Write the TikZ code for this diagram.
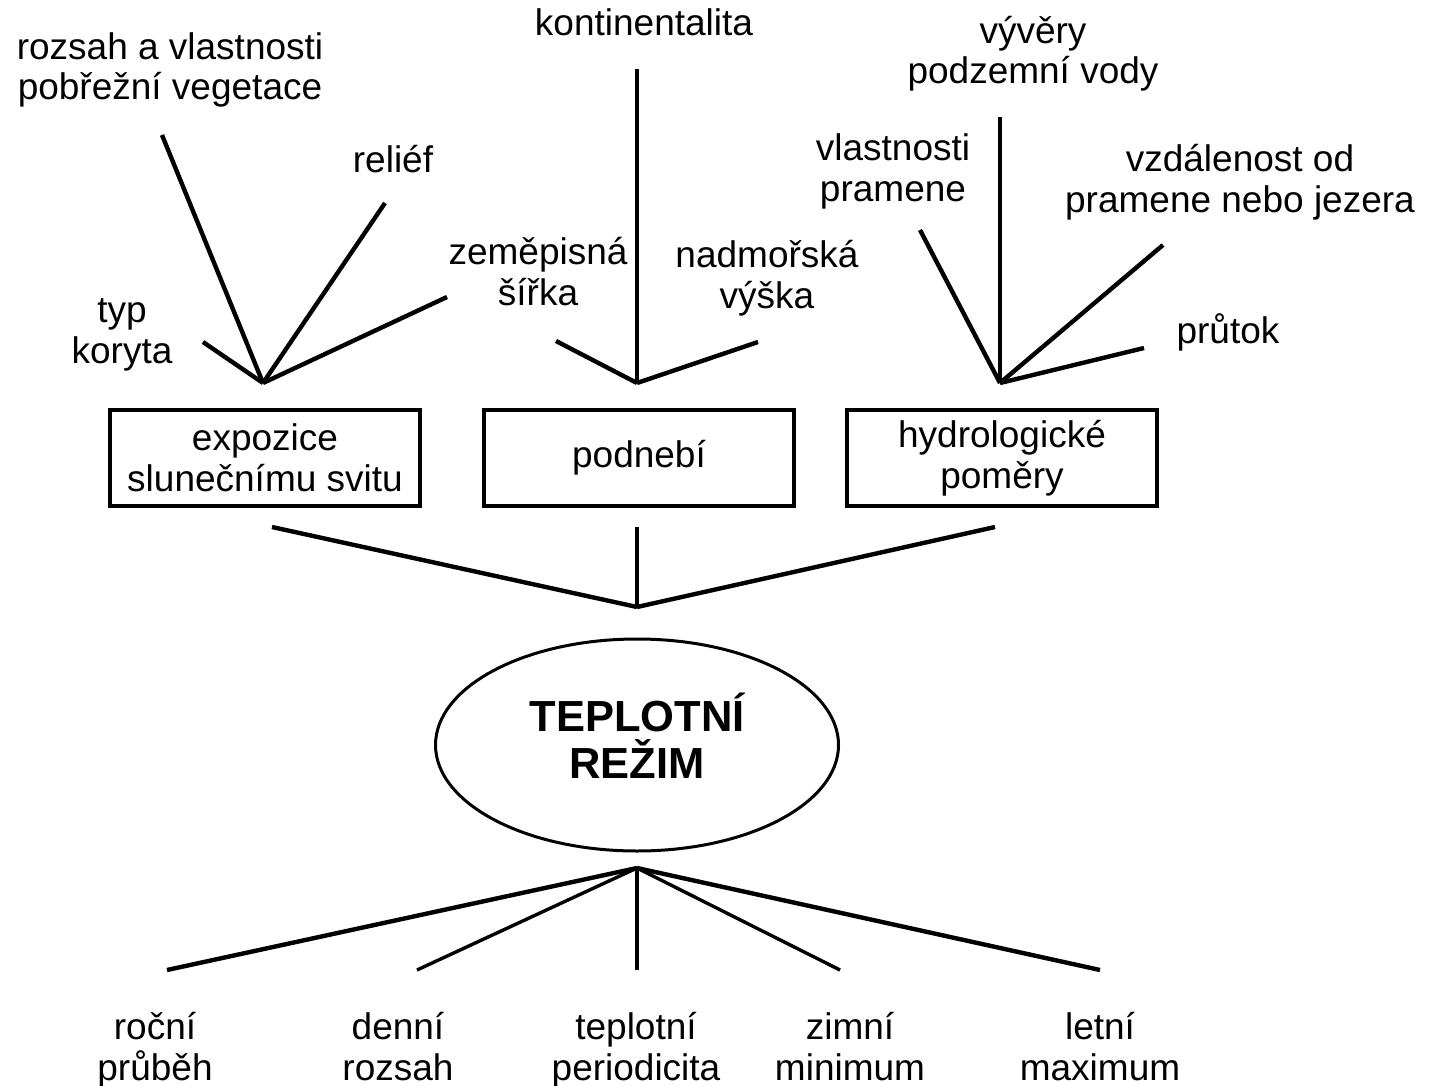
\documentclass[tikz,border=0pt]{standalone}
\usepackage{fontspec}
\setmainfont{Liberation Sans}
\usetikzlibrary{shapes.geometric}

\begin{document}
\begin{tikzpicture}[
    x=0.5pt, y=-0.5pt,
    lbl/.style={align=center,inner sep=0pt,anchor=base,font=\fontsize{18.5}{20.5}\selectfont},
    factor/.style={draw,line width=2pt,minimum width=155pt,minimum height=48pt,inner sep=0pt,align=center,font=\fontsize{18.5}{20.5}\selectfont},
    core/.style={draw,ellipse,line width=1.5pt,minimum width=201.5pt,minimum height=106pt,inner sep=0pt,align=center,
      font=\bfseries\fontsize{21.75}{23.5}\selectfont,text height=39pt,text depth=6pt},
    link/.style={line width=2.2pt},
    thinlink/.style={line width=1.7pt}
  ]
  \useasboundingbox (0,0) rectangle (1429,1086);

  % influences on the three factors
  \node[lbl] (rozsah) at (170,100) {rozsah a vlastnosti\\pobřežní vegetace};
  \node[lbl] (relief) at (393,172) {reliéf};
  \node[lbl] (typ) at (122,363) {typ\\koryta};
  \node[lbl] (sirka) at (538,305) {zeměpisná\\šířka};
  \node[lbl] (kont) at (644,36) {kontinentalita};
  \node[lbl] (vyska) at (767,308) {nadmořská\\výška};
  \node[lbl] (vyvery) at (1033,84) {vývěry\\podzemní vody};
  \node[lbl] (pramen) at (893,201) {vlastnosti\\pramene};
  \node[lbl] (vzdal) at (1240,212) {vzdálenost od\\pramene nebo jezera};
  \node[lbl] (prutok) at (1228,343) {průtok};

  \node[factor] (expo) at (265,458) {expozice\\slunečnímu svitu};
  \node[factor] (podnebi) at (639,458) {podnebí};
  \node[factor] (hydro) at (1002,458) {hydrologické\\poměry};

  \node[core] (rezim) at (637,745) {TEPLOTNÍ\\REŽIM};

  \node[lbl] (rocni) at (155,1080) {roční\\průběh};
  \node[lbl] (denni) at (398,1080) {denní\\rozsah};
  \node[lbl] (perio) at (636,1080) {teplotní\\periodicita};
  \node[lbl] (zimni) at (850,1080) {zimní\\minimum};
  \node[lbl] (letni) at (1100,1080) {letní\\maximum};

  % line ends
  \coordinate (hubA) at (263,383);
  \coordinate (hubB) at (637,383);
  \coordinate (hubC) at (1000,383);
  \coordinate (hubD) at (637,607);
  \coordinate (hubE) at (637,868);
  \coordinate (eRozsah) at (162,135);
  \coordinate (eRelief) at (385,203);
  \coordinate (eTyp) at (203,342);
  \coordinate (eSirka) at (447,297);
  \coordinate (eKont) at (637,69);
  \coordinate (eLat) at (556,341);
  \coordinate (eVyska) at (758,342);
  \coordinate (eVyvery) at (1000,117);
  \coordinate (ePramen) at (920,230);
  \coordinate (eVzdal) at (1163,245);
  \coordinate (ePrutok) at (1144,348);
  \coordinate (eExpo) at (272,527);
  \coordinate (ePodnebi) at (637,527);
  \coordinate (eHydro) at (995,527);
  \coordinate (eRocni) at (167,970);
  \coordinate (eDenni) at (417,970);
  \coordinate (ePerio) at (637,970);
  \coordinate (eZimni) at (840,970);
  \coordinate (eLetni) at (1100,970);

  \draw[link] (eRozsah) -- (hubA);
  \draw[link] (eRelief) -- (hubA);
  \draw[link] (eTyp) -- (hubA);
  \draw[link] (eSirka) -- (hubA);
  \draw[link] (eKont) -- (hubB);
  \draw[link] (eLat) -- (hubB);
  \draw[link] (eVyska) -- (hubB);
  \draw[link] (eVyvery) -- (hubC);
  \draw[link] (ePramen) -- (hubC);
  \draw[link] (eVzdal) -- (hubC);
  \draw[link] (ePrutok) -- (hubC);
  \draw[link] (eExpo) -- (hubD);
  \draw[thinlink] (ePodnebi) -- (hubD);
  \draw[link] (eHydro) -- (hubD);
  \draw[link] (hubE) -- (eRocni);
  \draw[thinlink] (hubE) -- (eDenni);
  \draw[thinlink] (hubE) -- (ePerio);
  \draw[thinlink] (hubE) -- (eZimni);
  \draw[link] (hubE) -- (eLetni);
\end{tikzpicture}
\end{document}
